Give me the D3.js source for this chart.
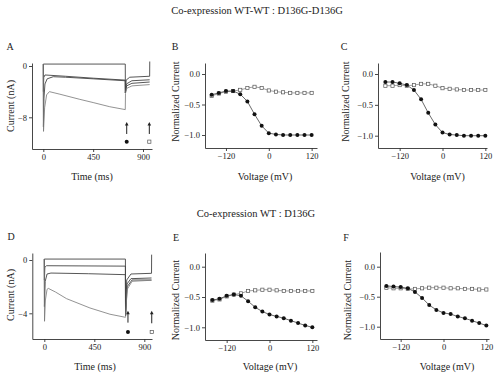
<!DOCTYPE html>
<html><head><meta charset="utf-8">
<script src="https://cdn.jsdelivr.net/npm/d3@7"></script>
<style>
body{margin:0;background:#fff}
text{font-family:"Liberation Serif","Times New Roman",serif;fill:#222}
</style>
</head><body>
<svg id="c" width="500" height="375"></svg>
<script>
// ---------- DATA ----------
const titles = ["Co-expression  WT-WT : D136G-D136G", "Co-expression WT : D136G"];
const voltages = [-160,-140,-120,-100,-80,-60,-40,-20,0,20,40,60,80,100,120];
const voltTicks = [-120, 0, 120];
const normTicks = [0.0, -0.5, -1.0];
const timeTicks = [0, 450, 900];
const currTicksA = [0, -8];
const currTicksD = [0, -4];

// Panel B (WT-WT : D136G-D136G)
const bFilled = [-0.34,-0.31,-0.28,-0.28,-0.33,-0.45,-0.66,-0.85,-0.97,-0.99,-1.0,-1.0,-1.0,-1.0,-1.0];
const bOpen   = [-0.36,-0.32,-0.29,-0.28,-0.26,-0.23,-0.21,-0.23,-0.27,-0.29,-0.30,-0.31,-0.31,-0.31,-0.31];
// Panel C
const cFilled = [-0.13,-0.13,-0.15,-0.18,-0.26,-0.41,-0.63,-0.82,-0.95,-0.98,-0.99,-1.0,-1.0,-1.0,-1.0];
const cOpen   = [-0.19,-0.19,-0.18,-0.19,-0.18,-0.16,-0.16,-0.19,-0.23,-0.24,-0.25,-0.26,-0.26,-0.26,-0.26];
// Panel E (WT : D136G)
const eFilled = [-0.55,-0.53,-0.48,-0.46,-0.48,-0.57,-0.67,-0.74,-0.79,-0.82,-0.85,-0.89,-0.93,-0.97,-1.0];
const eOpen   = [-0.56,-0.54,-0.49,-0.46,-0.44,-0.40,-0.39,-0.38,-0.38,-0.39,-0.40,-0.40,-0.40,-0.40,-0.40];
// Panel F
const fFilled = [-0.32,-0.33,-0.34,-0.36,-0.42,-0.52,-0.64,-0.72,-0.77,-0.79,-0.83,-0.86,-0.90,-0.94,-0.98];
const fOpen   = [-0.35,-0.36,-0.36,-0.37,-0.37,-0.36,-0.35,-0.35,-0.35,-0.36,-0.36,-0.37,-0.37,-0.38,-0.38];

// Current traces [time ms, current nA]
const traceA1 = [[0,0.3],[740,0.3],[741,-4.2],[748,-2.2],[780,-1.75],[960,-1.6],[961,0.7]];
const traceA2 = [[0,0.3],[1,-4],[4,-1.8],[15,-1.4],[200,-1.6],[450,-1.9],[740,-2.2],[741,-4.2],[750,-2.8],[800,-2.3],[960,-2.15]];
const traceA3 = [[0,0.3],[1,-9.5],[6,-5],[15,-2.8],[35,-2.0],[90,-1.67],[200,-1.75],[450,-2.0],[740,-2.3],[741,-4.2],[752,-3.1],[800,-2.7],[960,-2.5]];
const traceA4 = [[0,0.3],[2,-10.2],[12,-6.5],[30,-4.5],[55,-4.0],[150,-4.4],[330,-5.2],[450,-5.7],[600,-6.35],[740,-6.8],[742,-4.3],[752,-3.5],[800,-3.1],[960,-2.9]];
const traceD1 = [[0,0.07],[730,0.07],[731,-4.2],[742,-1.5],[780,-1.05],[965,-1.0],[966,0.4]];
const traceD2 = [[0,0.07],[1,-1.5],[5,-0.55],[20,-0.43],[730,-0.46],[731,-4.2],[744,-1.8],[780,-1.4],[965,-1.35]];
const traceD3 = [[0,0.07],[1,-3.5],[8,-1.6],[25,-1.05],[60,-0.98],[400,-1.03],[730,-1.1],[731,-4.2],[746,-2.0],[790,-1.5],[965,-1.5]];
const traceD4 = [[0,0.07],[2,-4.6],[10,-3.0],[25,-2.2],[36,-2.13],[100,-2.4],[200,-2.9],[411,-3.6],[591,-4.07],[730,-4.3],[731,-4.25],[746,-2.2],[790,-1.6],[965,-1.52]];
// arrow / marker annotations [time ms, current nA]
const arrowsA = [[753,-10.6,-8.8],[957,-10.6,-8.8]];
const markersA = [[753,-11.8,"filled"],[957,-11.8,"open"]];
const arrowsD = [[753,-4.7,-3.85],[967,-4.75,-3.85]];
const markersD = [[753,-5.4,"filled"],[967,-5.4,"open"]];

// ---------- DRAWING ----------
const svg = d3.select("#c");
svg.append("rect").attr("width",500).attr("height",375).attr("fill","#fff");
const ink = "#333";
const serif = '"Liberation Serif","Times New Roman",serif';

function lin(d0,r0,d1,r1,rmin,rmax){
  const s = d3.scaleLinear().domain([d0,d1]).range([r0,r1]);
  return d3.scaleLinear().domain([s.invert(rmin), s.invert(rmax)]).range([rmin,rmax]);
}

function axes(x, y, xt, yt, yfmt){
  const gx = svg.append("g").attr("transform",`translate(0,${y.range()[1]})`)
    .call(d3.axisBottom(x).tickValues(xt).tickSize(3).tickSizeOuter(0).tickPadding(2).tickFormat(d3.format("d")));
  const gy = svg.append("g").attr("transform",`translate(${x.range()[0]},0)`)
    .call(d3.axisLeft(y).tickValues(yt).tickSize(3).tickSizeOuter(0).tickPadding(2).tickFormat(yfmt));
  [gx,gy].forEach(g=>{
    g.attr("font-family",serif);
    g.selectAll("path,line").attr("stroke",ink).attr("stroke-width",0.9);
    g.selectAll("text").attr("font-size",8.5).attr("fill","#222").attr("font-family",serif);
  });
}

function label(txt,x,y,size,rot){
  const t = svg.append("text").attr("x",x).attr("y",y).attr("font-size",size)
    .attr("font-family",serif).attr("text-anchor","middle").text(txt);
  if(rot) t.attr("transform",`rotate(-90,${x},${y})`);
}

function scatter(x,y,filled,open){
  const pts = (arr)=>voltages.map((v,i)=>[v,arr[i]]);
  const line = d3.line().x(d=>x(d[0])).y(d=>y(d[1]));
  svg.append("path").attr("d",line(pts(open))).attr("fill","none").attr("stroke","#777").attr("stroke-width",0.7);
  svg.append("path").attr("d",line(pts(filled))).attr("fill","none").attr("stroke","#444").attr("stroke-width",0.8);
  svg.selectAll(null).data(pts(open)).enter().append("rect")
    .attr("x",d=>x(d[0])-1.6).attr("y",d=>y(d[1])-1.6).attr("width",3.2).attr("height",3.2)
    .attr("fill","#fff").attr("stroke","#555").attr("stroke-width",0.7);
  svg.selectAll(null).data(pts(filled)).enter().append("circle")
    .attr("cx",d=>x(d[0])).attr("cy",d=>y(d[1])).attr("r",2.0).attr("fill","#111");
}

function traces(x,y,list,arrows,markers){
  const line = d3.line().x(d=>x(d[0])).y(d=>y(d[1]));
  list.forEach((tr,i)=>{
    svg.append("path").attr("d",line(tr)).attr("fill","none")
      .attr("stroke", i===3 ? "#777" : "#444").attr("stroke-width", i===3 ? 0.8 : 0.9);
  });
  arrows.forEach(a=>{
    const xx=x(a[0]), yb=y(a[1]), yt=y(a[2]);
    svg.append("line").attr("x1",xx).attr("x2",xx).attr("y1",yb).attr("y2",yt+2).attr("stroke","#222").attr("stroke-width",1);
    svg.append("path").attr("d",`M${xx-1.8},${yt+3}L${xx},${yt-0.5}L${xx+1.8},${yt+3}Z`).attr("fill","#222");
  });
  markers.forEach(m=>{
    if(m[2]==="filled") svg.append("circle").attr("cx",x(m[0])).attr("cy",y(m[1])).attr("r",2).attr("fill","#111");
    else svg.append("rect").attr("x",x(m[0])-1.6).attr("y",y(m[1])-1.6).attr("width",3.2).attr("height",3.2)
      .attr("fill","#fff").attr("stroke","#555").attr("stroke-width",0.7);
  });
}

const fmtNorm = d3.format(".1f");
const fmtInt = d3.format("d");

// Titles
label(titles[0],257,13.5,10.5);
label(titles[1],256,216.5,10.5);

// Panel A
{ const x = lin(0,43.3,900,143,32,152), y = lin(0,66,-8,117.3,63,149);
  traces(x,y,[traceA1,traceA2,traceA3,traceA4],arrowsA,markersA);
  axes(x,y,timeTicks,currTicksA,fmtInt);
  label("A",10,50,10); label("Current (nA)",13.5,106,10,true); label("Time (ms)",92,180,10); }
// Panel B
{ const x = lin(0,268.8,120,311.64,205,317), y = lin(0,74,-1,135,63,148);
  scatter(x,y,bFilled,bOpen); axes(x,y,voltTicks,normTicks,fmtNorm);
  label("B",175,50,10); label("Normalized Current",178.5,101.5,10,true); label("Voltage (mV)",265,180,10); }
// Panel C
{ const x = lin(0,442.5,120,485.34,378,487), y = lin(0,74,-1,135.7,63,148);
  scatter(x,y,cFilled,cOpen); axes(x,y,voltTicks,normTicks,fmtNorm);
  label("C",344,50,10); label("Normalized Current",348.5,101.5,10,true); label("Voltage (mV)",437.5,180,10); }
// Panel D
{ const x = lin(0,44.3,900,144.3,32.3,152), y = lin(0,260,-4,313.3,253,339);
  traces(x,y,[traceD1,traceD2,traceD3,traceD4],arrowsD,markersD);
  axes(x,y,timeTicks,currTicksD,fmtInt);
  label("D",11,240,10); label("Current (nA)",13.5,295,10,true); label("Time (ms)",95,369.5,10); }
// Panel E
{ const x = lin(0,269.5,120,312.34,205,317), y = lin(0,266.7,-1,327.3,253,340);
  scatter(x,y,eFilled,eOpen); axes(x,y,voltTicks,normTicks,fmtNorm);
  label("E",176,241,10); label("Normalized Current",178.5,300,10,true); label("Voltage (mV)",270,370,10); }
// Panel F
{ const x = lin(0,443.5,120,486.34,380,489), y = lin(0,266.7,-1,326.7,252,339);
  scatter(x,y,fFilled,fOpen); axes(x,y,voltTicks,normTicks,fmtNorm);
  label("F",346,241,10); label("Normalized Current",350.5,300,10,true); label("Voltage (mV)",447,370,10); }
</script>
</body></html>
